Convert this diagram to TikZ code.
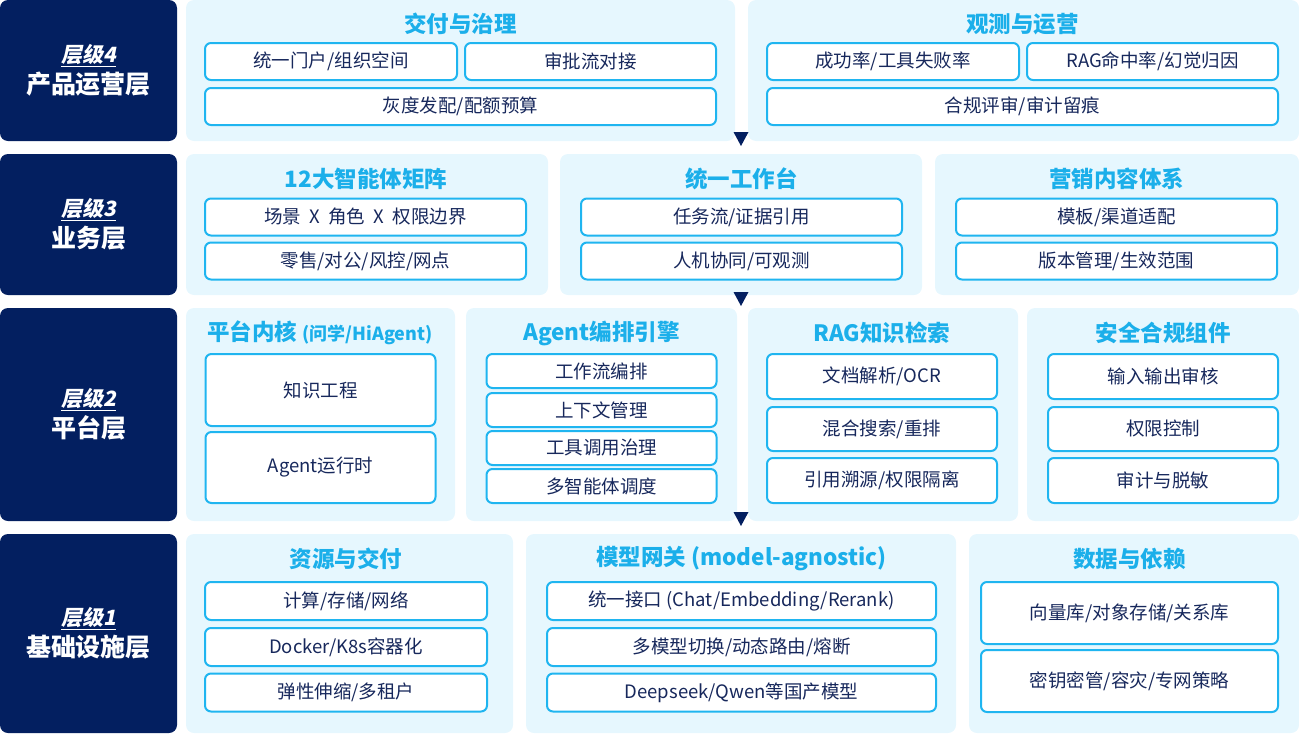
\documentclass[tikz,border=0pt]{standalone}
\usepackage{fontspec}
\setmainfont{Noto Sans CJK SC}
\newfontfamily\slantfont[FakeSlant=0.2]{Noto Sans CJK SC}
\definecolor{navy}{HTML}{031F60}
\definecolor{panelbg}{HTML}{E6F7FE}
\definecolor{cellline}{HTML}{1FB5F0}
\definecolor{titlec}{HTML}{1BAFEA}
\definecolor{ink}{HTML}{17285C}
\newcommand{\xsep}{\hspace{.45em}X\hspace{.45em}}
\begin{document}
\begin{tikzpicture}[x=1pt,y=-1pt,
    layer/.style={fill=navy,rounded corners=8pt,minimum width=177,text=white,
      align=center,inner sep=0,font=\fontsize{21}{31}\selectfont},
    panel/.style={fill=panelbg,rounded corners=8pt,inner sep=0},
    title/.style={text=titlec,inner sep=0,font=\fontsize{22.5}{26}\selectfont\bfseries},
    cell/.style={draw=cellline,line width=2pt,fill=white,rounded corners=6pt,
      text=ink,inner sep=0,font=\fontsize{18.5}{21}\selectfont}]
    \useasboundingbox (0,0) rectangle (1299,734);
    % layer labels
    \node[layer,minimum height=141] (l4) at (88.5,70.5)
      {\underline{\slantfont\bfseries 层级4}\\{\fontsize{25}{28}\selectfont\bfseries 产品运营层}};
    \node[layer,minimum height=141] (l3) at (88.5,224.5)
      {\underline{\slantfont\bfseries 层级3}\\{\fontsize{25}{28}\selectfont\bfseries 业务层}};
    \node[layer,minimum height=213] (l2) at (88.5,414.5)
      {\underline{\slantfont\bfseries 层级2}\\{\fontsize{25}{28}\selectfont\bfseries 平台层}};
    \node[layer,minimum height=199] (l1) at (88.5,633.5)
      {\underline{\slantfont\bfseries 层级1}\\{\fontsize{25}{28}\selectfont\bfseries 基础设施层}};
    % panels
    \node[panel,minimum width=549,minimum height=141] (deliver) at (460.5,70.5) {};
    \node[panel,minimum width=551,minimum height=141] (observe) at (1023.5,70.5) {};
    \node[panel,minimum width=362,minimum height=141] (agents) at (367,224.5) {};
    \node[panel,minimum width=362,minimum height=141] (workbench) at (741,224.5) {};
    \node[panel,minimum width=364,minimum height=141] (content) at (1117,224.5) {};
    \node[panel,minimum width=269,minimum height=213] (core) at (320.5,414.5) {};
    \node[panel,minimum width=271,minimum height=213] (engine) at (601.5,414.5) {};
    \node[panel,minimum width=270,minimum height=213] (rag) at (883,414.5) {};
    \node[panel,minimum width=272,minimum height=213] (safety) at (1163,414.5) {};
    \node[panel,minimum width=327,minimum height=199] (resource) at (349.5,633.5) {};
    \node[panel,minimum width=430,minimum height=199] (gateway) at (741,633.5) {};
    \node[panel,minimum width=330,minimum height=199] (data) at (1134,633.5) {};
    % titles
    \node[title] (deliver0) at (460.5,24) {交付与治理};
    \node[title] (observe0) at (1022.5,24) {观测与运营};
    \node[title] (agents0) at (366,179) {12大智能体矩阵};
    \node[title] (workbench0) at (741.5,179) {统一工作台};
    \node[title] (content0) at (1116.5,179) {营销内容体系};
    \node[title] (core0) at (320,333) {平台内核 {\fontsize{18}{20}\selectfont(问学/HiAgent)}};
    \node[title] (engine0) at (601.5,333) {Agent编排引擎};
    \node[title] (rag0) at (882,333) {RAG知识检索};
    \node[title] (safety0) at (1163,333) {安全合规组件};
    \node[title] (resource0) at (346,559) {资源与交付};
    \node[title] (gateway0) at (741.5,559) {模型网关 (model-agnostic)};
    \node[title] (data0) at (1129.5,559) {数据与依赖};
    % cells
    \begin{scope}[every node/.append style={cell,minimum height=37}]
      \node[minimum width=252] (deliver1) at (331,61.5) {统一门户/组织空间};
      \node[minimum width=251] (deliver2) at (590.5,61.5) {审批流对接};
      \node[minimum width=511] (deliver3) at (460.5,106.5) {灰度发配/配额预算};
      \node[minimum width=252] (observe1) at (893,61.5) {成功率/工具失败率};
      \node[minimum width=251] (observe2) at (1152.5,61.5) {RAG命中率/幻觉归因};
      \node[minimum width=511] (observe3) at (1022.5,106.5) {合规评审/审计留痕};
      \node[minimum width=321] (agents1) at (365.5,217) {场景\xsep 角色\xsep 权限边界};
      \node[minimum width=321] (agents2) at (365.5,261) {零售/对公/风控/网点};
      \node[minimum width=321] (workbench1) at (741.5,217) {任务流/证据引用};
      \node[minimum width=321] (workbench2) at (741.5,261) {人机协同/可观测};
      \node[minimum width=321] (content1) at (1116.5,217) {模板/渠道适配};
      \node[minimum width=321] (content2) at (1116.5,261) {版本管理/生效范围};
    \end{scope}
    \begin{scope}[every node/.append style={cell,minimum width=230}]
      \node[minimum height=72] (core1) at (320.5,390) {知识工程};
      \node[minimum height=71] (core2) at (320.5,467.5) {Agent运行时};
      \node[minimum height=34] (engine1) at (601.5,371) {工作流编排};
      \node[minimum height=34] (engine2) at (601.5,410) {上下文管理};
      \node[minimum height=34] (engine3) at (601.5,448) {工具调用治理};
      \node[minimum height=34] (engine4) at (601.5,486) {多智能体调度};
      \node[minimum height=45] (rag1) at (882,376.5) {文档解析/OCR};
      \node[minimum height=44] (rag2) at (882,429) {混合搜索/重排};
      \node[minimum height=45] (rag3) at (882,480.5) {引用溯源/权限隔离};
      \node[minimum height=45] (safety1) at (1163,376.5) {输入输出审核};
      \node[minimum height=44] (safety2) at (1163,429) {权限控制};
      \node[minimum height=45] (safety3) at (1163,480.5) {审计与脱敏};
    \end{scope}
    \begin{scope}[every node/.append style={cell}]
      \node[minimum width=282,minimum height=38] (resource1) at (346,601) {计算/存储/网络};
      \node[minimum width=282,minimum height=38] (resource2) at (346,647) {Docker/K8s容器化};
      \node[minimum width=282,minimum height=38] (resource3) at (346,692.5) {弹性伸缩/多租户};
      \node[minimum width=389,minimum height=38] (gateway1) at (741.5,601) {统一接口 (Chat/Embedding/Rerank)};
      \node[minimum width=389,minimum height=38] (gateway2) at (741.5,647) {多模型切换/动态路由/熔断};
      \node[minimum width=389,minimum height=38] (gateway3) at (741.5,692.5) {Deepseek/Qwen等国产模型};
      \node[minimum width=297,minimum height=62] (data1) at (1129.5,613) {向量库/对象存储/关系库};
      \node[minimum width=297,minimum height=62] (data2) at (1129.5,681) {密钥密管/容灾/专网策略};
    \end{scope}
    % flow markers between layers
    \foreach \y in {132,292,512}
      \fill[navy] (733.5,\y) -- (748.5,\y) -- (741,\y+14) -- cycle;
  \end{tikzpicture}
\end{document}
